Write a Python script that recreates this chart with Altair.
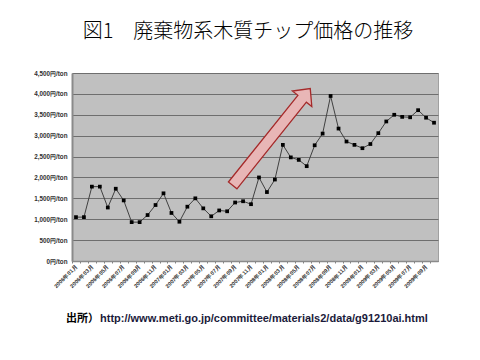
import json
import altair as alt
import pandas as pd

title_text = "図1　廃棄物系木質チップ価格の推移"
source_label = "出所）"
source_url = "http://www.meti.go.jp/committee/materials2/data/g91210ai.html"

months = [f"{y}年{m:02d}月" for y in range(2006, 2010) for m in range(1, 13)][:46]

prices = [1050, 1050, 1780, 1780, 1280, 1730, 1450, 930, 930, 1100,
          1340, 1620, 1150, 940, 1300, 1500, 1260, 1070, 1210, 1190,
          1400, 1430, 1360, 2000, 1650, 1950, 2780, 2480, 2420, 2270,
          2770, 3050, 3950, 3170, 2860, 2780, 2700, 2800, 3060, 3340,
          3500, 3450, 3440, 3610, 3430, 3310]

y_ticks = [0, 500, 1000, 1500, 2000, 2500, 3000, 3500, 4000, 4500]

# arrow annotation (data coordinates: month index, price)
arrow_x = [24.57]
arrow_y = [2968]
arrow_angle = [308.7]

df = pd.DataFrame({"idx": list(range(len(prices))), "month": months, "price": prices})

W, H = 366, 188
n = len(prices)
half = W / n / 2

labels_js = json.dumps(months, ensure_ascii=False)

x_scale = alt.Scale(domain=[-0.5, n - 0.5], nice=False, zero=False)
y_scale = alt.Scale(domain=[0, 4500], nice=False)

x_axis = alt.Axis(
    title=None,
    values=list(range(n)),
    labelExpr=f"datum.value % 2 == 0 ? {labels_js}[datum.value] : ''",
    labelAngle=-45,
    labelAlign="right",
    labelBaseline="middle",
    labelFontSize=5.5,
    labelColor="#303030",
    labelFontWeight="bold",
    labelPadding=2,
    tickOffset=-half,
    labelOffset=half,
    tickSize=2,
    tickColor="#808080",
    domainColor="#8a8a8a",
    domainWidth=1.5,
    grid=False,
    labelOverlap=False,
    labelBound=False,
)

y_axis = alt.Axis(
    title=None,
    values=y_ticks,
    labelExpr="format(datum.value, ',') + '円/ton'",
    labelFontSize=6.3,
    labelColor="#303030",
    labelFontWeight="bold",
    labelPadding=5,
    labelOverlap=False,
    ticks=False,
    domainColor="#8a8a8a",
    domainWidth=2,
    gridColor="#6e6e6e",
    gridWidth=1,
    gridOpacity=1,
)

base = alt.Chart(df).encode(
    x=alt.X("idx:Q", scale=x_scale, axis=x_axis),
    y=alt.Y("price:Q", scale=y_scale, axis=y_axis),
)

line = base.mark_line(color="#404040", strokeWidth=1)
pts = base.mark_square(color="#000000", size=14, opacity=1)

arrow_path = ("M -1 -0.088 L 0.79 -0.088 L 0.79 -0.2 L 1 0 L 0.79 0.2 "
              "L 0.79 0.088 L -1 0.088 Z")
arrow_df = pd.DataFrame({"idx": arrow_x, "price": arrow_y, "ang": arrow_angle})
arrow = alt.Chart(arrow_df).mark_point(
    shape=arrow_path, filled=True, fill="#e8b6b6", stroke="#a52a2a",
    strokeWidth=1.3, size=15400, opacity=1, fillOpacity=1, strokeOpacity=1
).encode(
    x=alt.X("idx:Q", scale=x_scale, axis=x_axis),
    y=alt.Y("price:Q", scale=y_scale, axis=y_axis),
    angle=alt.Angle("ang:Q", scale=None),
)

title_df = pd.DataFrame({"t": [title_text]})
title = alt.Chart(title_df).mark_text(
    font="Noto Sans CJK JP", fontSize=20, fontWeight=300, color="#000000",
    align="center", baseline="middle"
).encode(text="t:N", x=alt.value(176), y=alt.value(-41))

src_df = pd.DataFrame({"a": [source_label], "b": [source_url]})
src1 = alt.Chart(src_df).mark_text(
    font="Noto Sans CJK JP", fontSize=11, fontWeight="bold", color="#000000",
    align="left", baseline="alphabetic"
).encode(text="a:N", x=alt.value(-6), y=alt.value(249))
src2 = alt.Chart(src_df).mark_text(
    font="Liberation Sans", fontSize=11, fontWeight="bold", color="#1a1a3a",
    align="left", baseline="alphabetic"
).encode(text="b:N", x=alt.value(28), y=alt.value(249))

chart = alt.layer(line, pts, arrow, title, src1, src2).properties(
    width=W, height=H,
    autosize=alt.AutoSizeParams(type="none"),
    padding={"left": 64, "top": 65, "right": 34, "bottom": 91},
    background="#ffffff",
).configure_view(
    fill="#c0c0c0", stroke="#a0a0a0", strokeWidth=1
)

chart.save("out.html", embed_options={"renderer": "svg", "actions": False})
